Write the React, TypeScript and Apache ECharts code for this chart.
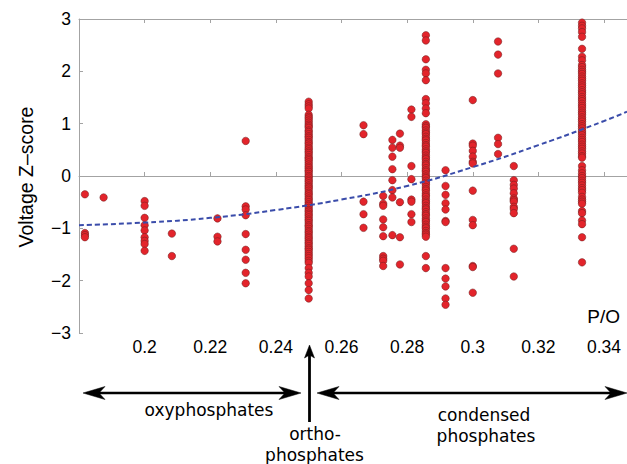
import React, { useEffect, useRef } from "react";
import * as echarts from "echarts";

// P/O ratio of each column of compounds
const poColumns = [0.1818, 0.1875, 0.2, 0.2083, 0.2222, 0.2308, 0.25, 0.2667, 0.2727, 0.2755, 0.2778, 0.2813, 0.2857, 0.2917, 0.3, 0.3077, 0.3125, 0.3333];

// Voltage Z-scores read per column
const z1818 = [-0.35, -1.09, -1.13, -1.17];
const z1875 = [-0.41];
const z2000 = [-0.48, -0.57, -0.8, -0.94, -1.04, -1.17, -1.24, -1.3, -1.43];
const z2083 = [-1.1, -1.53];
const z2222 = [-0.81, -1.16, -1.25];
const z2308 = [0.67, -0.58, -0.64, -0.75, -1.11, -1.41, -1.6, -1.85, -2.05];
const z2500 = [1.42, 1.37, 1.33, 1.29, 1.17, 1.13, 1.1, 1.06, 1.02, 0.98, 0.95, 0.92, 0.87, 0.84, 0.8, 0.76, 0.73, 0.69, 0.65, 0.62, 0.58, 0.54, 0.51, 0.47, 0.44, 0.4, 0.36, 0.33, 0.3, 0.26, 0.22, 0.18, 0.15, 0.11, 0.08, 0.04, 0.0, -0.03, -0.07, -0.1, -0.14, -0.18, -0.21, -0.24, -0.28, -0.32, -0.35, -0.39, -0.43, -0.46, -0.5, -0.54, -0.57, -0.61, -0.65, -0.68, -0.72, -0.75, -0.79, -0.83, -0.86, -0.9, -0.94, -0.97, -1.01, -1.05, -1.08, -1.12, -1.16, -1.19, -1.23, -1.27, -1.3, -1.34, -1.38, -1.41, -1.45, -1.49, -1.53, -1.57, -1.62, -1.66, -1.76, -1.85, -1.92, -2.05, -2.18, -2.34];
const z2667 = [0.97, 0.8, -0.49, -0.73, -0.99];
const z2727 = [-0.38, -0.53, -0.57, -0.83, -0.98, -1.15, -1.53, -1.58, -1.62, -1.72];
const z2755 = [0.69, 0.54, 0.37, 0.13, -0.08, -0.27, -0.41, -1.13];
const z2778 = [0.81, 0.58, 0.54, -0.5, -1.17, -1.69];
const z2813 = [1.27, 1.13, 0.19, -0.06, -0.45, -0.49, -0.73, -0.88];
const z2857 = [2.69, 2.59, 2.23, 2.03, 1.96, 1.83, 1.47, 1.39, 1.29, 1.2, 0.99, 0.95, 0.92, 0.87, 0.83, 0.8, 0.75, 0.71, 0.68, 0.63, 0.59, 0.56, 0.51, 0.47, 0.44, 0.39, 0.35, 0.32, 0.27, 0.23, 0.2, 0.15, 0.11, 0.08, 0.03, -0.01, -0.04, -0.09, -0.13, -0.16, -0.21, -0.25, -0.28, -0.33, -0.37, -0.4, -0.45, -0.49, -0.52, -0.57, -0.61, -0.64, -0.69, -0.73, -0.76, -0.81, -0.85, -0.88, -0.93, -0.97, -1.0, -1.05, -1.09, -1.12, -1.16, -1.53, -1.76];
const z2917 = [0.11, -0.19, -0.36, -0.52, -0.64, -0.86, -0.88, -1.76, -1.96, -2.11, -2.34, -2.46];
const z3000 = [1.45, 0.62, 0.58, 0.48, 0.37, 0.27, 0.24, -0.28, -0.84, -0.94, -1.72, -1.74, -2.23];
const z3077 = [2.57, 2.32, 1.96, 0.73, 0.61, 0.42];
const z3125 = [0.19, -0.08, -0.17, -0.24, -0.33, -0.43, -0.46, -0.49, -0.59, -0.63, -0.71, -1.39, -1.92];
const z3333 = [2.93, 2.87, 2.82, 2.75, 2.66, 2.43, 2.28, 2.21, 2.12, 2.08, 2.03, 1.99, 1.95, 1.9, 1.86, 1.82, 1.77, 1.73, 1.69, 1.64, 1.6, 1.56, 1.51, 1.47, 1.43, 1.38, 1.34, 1.3, 1.25, 1.21, 1.17, 1.12, 1.08, 1.04, 0.99, 0.95, 0.91, 0.86, 0.82, 0.78, 0.73, 0.69, 0.65, 0.6, 0.56, 0.52, 0.47, 0.43, 0.38, 0.35, 0.19, 0.11, 0.05, 0.0, -0.04, -0.09, -0.13, -0.18, -0.23, -0.27, -0.32, -0.4, -0.45, -0.49, -0.53, -0.67, -0.71, -0.85, -0.92, -1.17, -1.65];

const columnScores = [z1818, z1875, z2000, z2083, z2222, z2308, z2500, z2667, z2727, z2755, z2778, z2813, z2857, z2917, z3000, z3077, z3125, z3333];

// Quadratic fit curve
const fitX = [0.18, 0.2, 0.22, 0.24, 0.26, 0.28, 0.3, 0.32, 0.34, 0.347];
const fitY = [-0.94, -0.89, -0.8, -0.65, -0.45, -0.19, 0.17, 0.59, 1.05, 1.23];

const xTickLabels = ["0.2", "0.22", "0.24", "0.26", "0.28", "0.3", "0.32", "0.34"];
const yTickLabels = ["\u22123", "\u22122", "\u22121", "0", "1", "2", "3"];

const AXIS_FONT = "'Liberation Sans', Arial, Helvetica, sans-serif";
const NOTE_FONT = "'DejaVu Sans', Verdana, sans-serif";
const GRAY = "#a3a3a3";

export default function App() {
  const ref = useRef<HTMLDivElement>(null);

  useEffect(() => {
    if (!ref.current) return;
    const chart = echarts.init(ref.current, undefined, { renderer: "svg" });

    const points: number[][] = [];
    poColumns.forEach((x, i) => {
      columnScores[i].forEach((z) => points.push([x, z]));
    });
    const fitData = fitX.map((x, i) => [x, fitY[i]]);

    const xFormatter = (v: number) => {
      const f = xTickLabels.find((l) => Math.abs(parseFloat(l) - v) < 1e-6);
      return f ?? "";
    };

    const baseX = {
      type: "value" as const,
      min: 0.18,
      max: 0.347,
      interval: 0.02,
      axisLine: { show: true, lineStyle: { color: GRAY, width: 1 } },
      axisTick: { show: true, inside: true, length: 4, lineStyle: { color: GRAY } },
      splitLine: { show: false },
    };

    const arrowHead = (pts: number[][]) => ({
      type: "polygon",
      shape: { points: pts },
      style: { fill: "#000", stroke: "#000", lineWidth: 0.5 },
      silent: true,
    });
    const shaft = (x1: number, y1: number, x2: number, y2: number, w: number) => ({
      type: "line",
      shape: { x1, y1, x2, y2 },
      style: { stroke: "#000", lineWidth: w },
      silent: true,
    });
    const note = (text: string, x: number, y: number) => ({
      type: "text",
      x,
      y,
      style: {
        text,
        fill: "#000",
        font: `17px ${NOTE_FONT}`,
        align: "center",
        verticalAlign: "middle",
      },
      silent: true,
    });

    chart.setOption({
      animation: false,
      backgroundColor: "#fff",
      grid: { left: 79, right: 0, top: 19, bottom: 131, containLabel: false },
      xAxis: [
        {
          ...baseX,
          position: "bottom",
          axisLabel: {
            show: true,
            margin: 5,
            color: "#000",
            fontSize: 17.5,
            fontFamily: AXIS_FONT,
            formatter: xFormatter,
            showMinLabel: false,
            showMaxLabel: false,
          },
        },
        {
          ...baseX,
          position: "top",
          axisLabel: { show: false },
        },
      ],
      yAxis: {
        type: "value",
        min: -3,
        max: 3,
        interval: 1,
        axisLine: { show: true, lineStyle: { color: GRAY, width: 1 } },
        axisTick: { show: true, inside: true, length: 4, lineStyle: { color: GRAY } },
        splitLine: { show: false },
        axisLabel: {
          margin: 8,
          color: "#000",
          fontSize: 17.5,
          fontFamily: AXIS_FONT,
          formatter: (v: number) => yTickLabels[Math.round(v) + 3] ?? "",
        },
      },
      series: [
        {
          type: "scatter",
          xAxisIndex: 0,
          data: points,
          symbol: "circle",
          symbolSize: 7.5,
          itemStyle: {
            color: "#e3242b",
            borderColor: "#6a2020",
            borderWidth: 0.5,
            opacity: 1,
          },
          z: 2,
        },
        {
          type: "line",
          xAxisIndex: 0,
          data: fitData,
          smooth: true,
          symbol: "none",
          lineStyle: { color: "#3a4caa", width: 2, type: [5, 3] },
          z: 3,
        },
      ],
      graphic: [
        {
          type: "text",
          x: 25.5,
          y: 177,
          rotation: Math.PI / 2,
          style: {
            text: "Voltage Z\u2013score",
            fill: "#000",
            font: `19.5px ${AXIS_FONT}`,
            align: "center",
            verticalAlign: "middle",
          },
          silent: true,
        },
        {
          type: "text",
          x: 620,
          y: 316.5,
          style: {
            text: "P/O",
            fill: "#000",
            font: `19px ${AXIS_FONT}`,
            align: "right",
            verticalAlign: "middle",
          },
          silent: true,
        },
        // oxyphosphates double arrow
        shaft(95, 393, 289, 393, 2.5),
        arrowHead([[83, 393], [105, 386.5], [99, 393], [105, 399.5]]),
        arrowHead([[301, 393], [279, 386.5], [285, 393], [279, 399.5]]),
        // condensed phosphates double arrow
        shaft(329, 393, 615, 393, 2.5),
        arrowHead([[317, 393], [339, 386.5], [333, 393], [339, 399.5]]),
        arrowHead([[627, 393], [605, 386.5], [611, 393], [605, 399.5]]),
        // orthophosphates arrow
        shaft(309.5, 354, 309.5, 422, 2.8),
        arrowHead([[309.5, 345], [304.5, 358], [309.5, 355], [314.5, 358]]),
        note("oxyphosphates", 209, 410),
        note("ortho-", 315, 434),
        note("phosphates", 314.5, 455),
        note("condensed", 484, 414.5),
        note("phosphates", 486, 435.5),
      ],
    });

    return () => chart.dispose();
  }, []);

  return (
    <div
      ref={ref}
      style={{ position: "fixed", left: 0, top: 0, width: 627, height: 464, background: "#fff" }}
    />
  );
}
